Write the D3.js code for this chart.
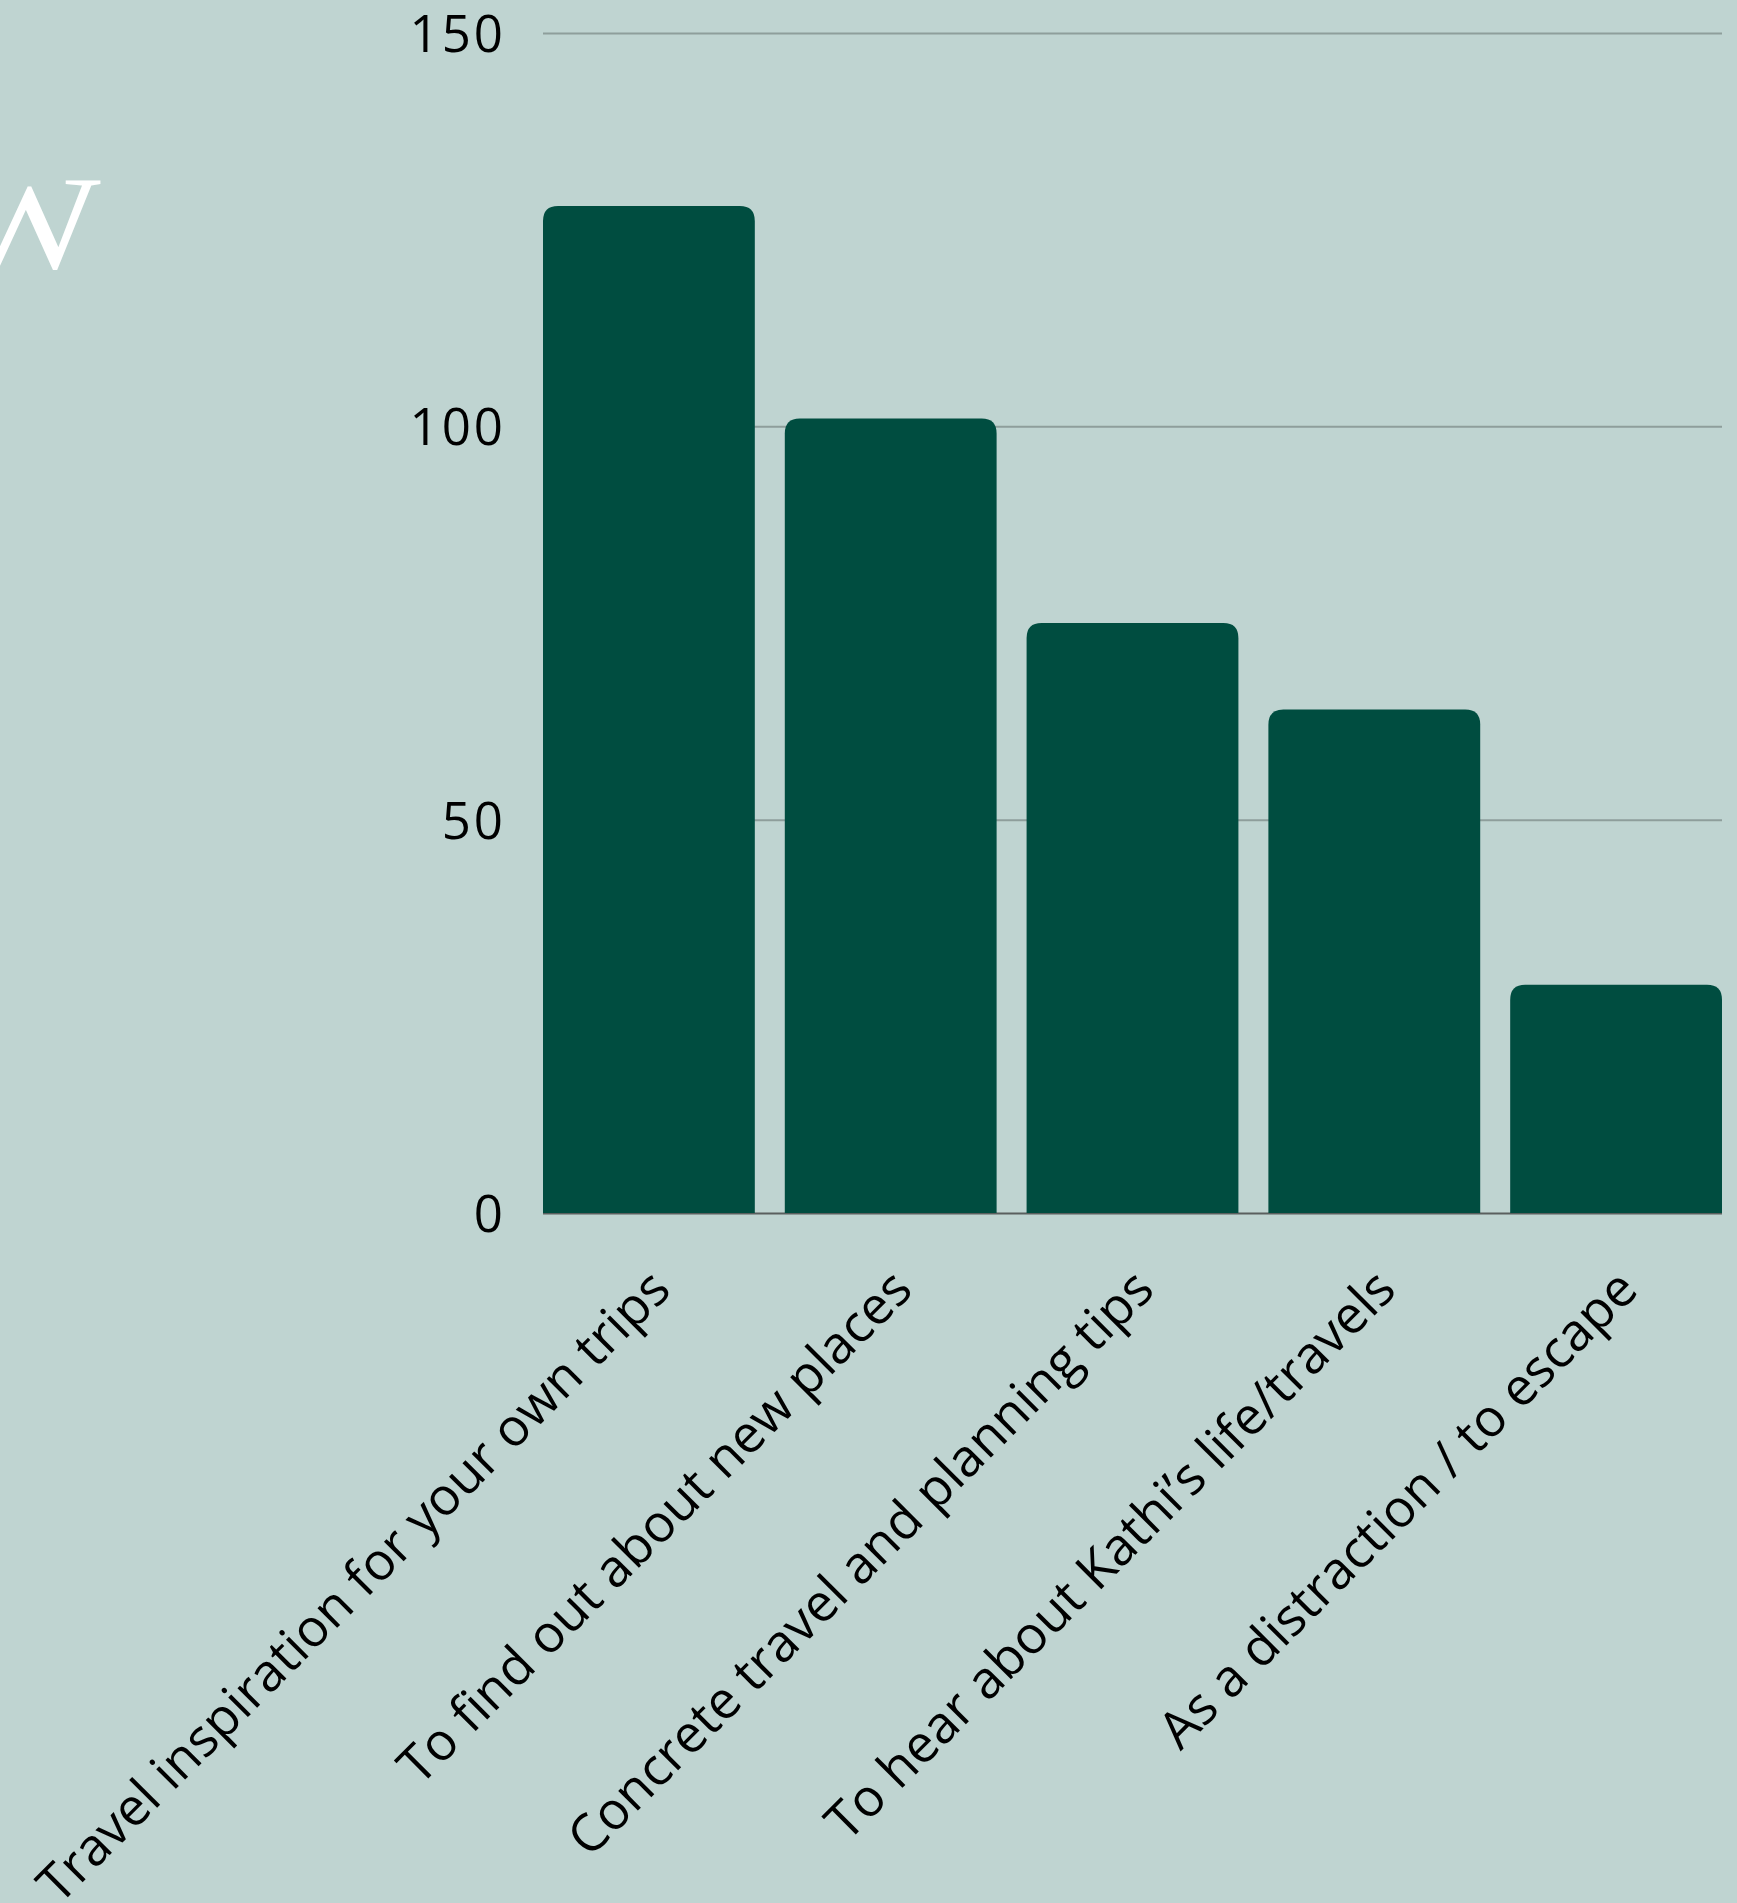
<!DOCTYPE html>
<html>
<head>
<meta charset="utf-8">
<script src="https://cdn.jsdelivr.net/npm/d3@7"></script>
<style>
  html, body { margin: 0; padding: 0; background: #BFD4D1; }
  svg { display: block; }
</style>
</head>
<body>
<script>
const categories = [
  "Travel inspiration for your own trips",
  "To find out about new places",
  "Concrete travel and planning tips",
  "To hear about Kathi\u2019s life/travels",
  "As a distraction / to escape"
];
const values = [128, 101, 75, 64, 29];
const yTicks = [0, 50, 100, 150];
const yTickLabels = ["0", "50", "100", "150"];
const titleFragment = "W";

const W = 1737, H = 1903;
const svg = d3.select("body").append("svg").attr("width", W).attr("height", H);
svg.append("rect").attr("width", W).attr("height", H).attr("fill", "#BFD4D1");

// partially visible title letter at the left edge
svg.append("text")
  .attr("transform", "translate(-50,268) scale(1.2,1)")
  .attr("font-family", "Liberation Serif, serif")
  .attr("font-size", 133)
  .attr("fill", "#ffffff")
  .text(titleFragment);

const x = d3.scaleBand().domain(categories).range([543, 1722]).paddingInner(0.124).paddingOuter(0);
const y = d3.scaleLinear().domain([0, 150]).range([1213, 33]);

// y axis with gridlines
const yAxis = d3.axisLeft(y)
  .tickValues(yTicks)
  .tickFormat((d, i) => yTickLabels[i])
  .tickSizeInner(-(1722 - 543))
  .tickSizeOuter(0)
  .tickPadding(37);

const gy = svg.append("g").attr("transform", "translate(543,0)").call(yAxis);
gy.select(".domain").remove();
gy.selectAll(".tick line")
  .attr("stroke", d => d === 0 ? "#5a5f5e" : "#8E9E9B")
  .attr("stroke-width", 2);
gy.selectAll(".tick text")
  .attr("font-family", "Open Sans, sans-serif")
  .attr("font-size", 51)
  .attr("letter-spacing", 3)
  .attr("fill", "#000")
  .attr("dy", "0.36em");

// bars with rounded tops
const r = 15;
function barPath(x0, w, yTop, yBot) {
  return `M${x0},${yBot}V${yTop + r}Q${x0},${yTop} ${x0 + r},${yTop}H${x0 + w - r}Q${x0 + w},${yTop} ${x0 + w},${yTop + r}V${yBot}Z`;
}
svg.append("g").selectAll("path")
  .data(values)
  .join("path")
  .attr("d", (d, i) => barPath(x(categories[i]), x.bandwidth(), y(d), y(0)))
  .attr("fill", "#004D40");

// x axis labels
const xAxis = d3.axisBottom(x).tickSize(0).tickPadding(0);
const gx = svg.append("g").attr("transform", `translate(0,${y(0)})`).call(xAxis);
gx.select(".domain").remove();
gx.selectAll(".tick text")
  .attr("font-family", "Open Sans, sans-serif")
  .attr("font-size", 52)
  .attr("fill", "#000")
  .attr("text-anchor", "end")
  .attr("x", 0).attr("y", 0).attr("dy", 0)
  .attr("transform", "translate(24,79) rotate(-45)");
</script>
</body>
</html>
